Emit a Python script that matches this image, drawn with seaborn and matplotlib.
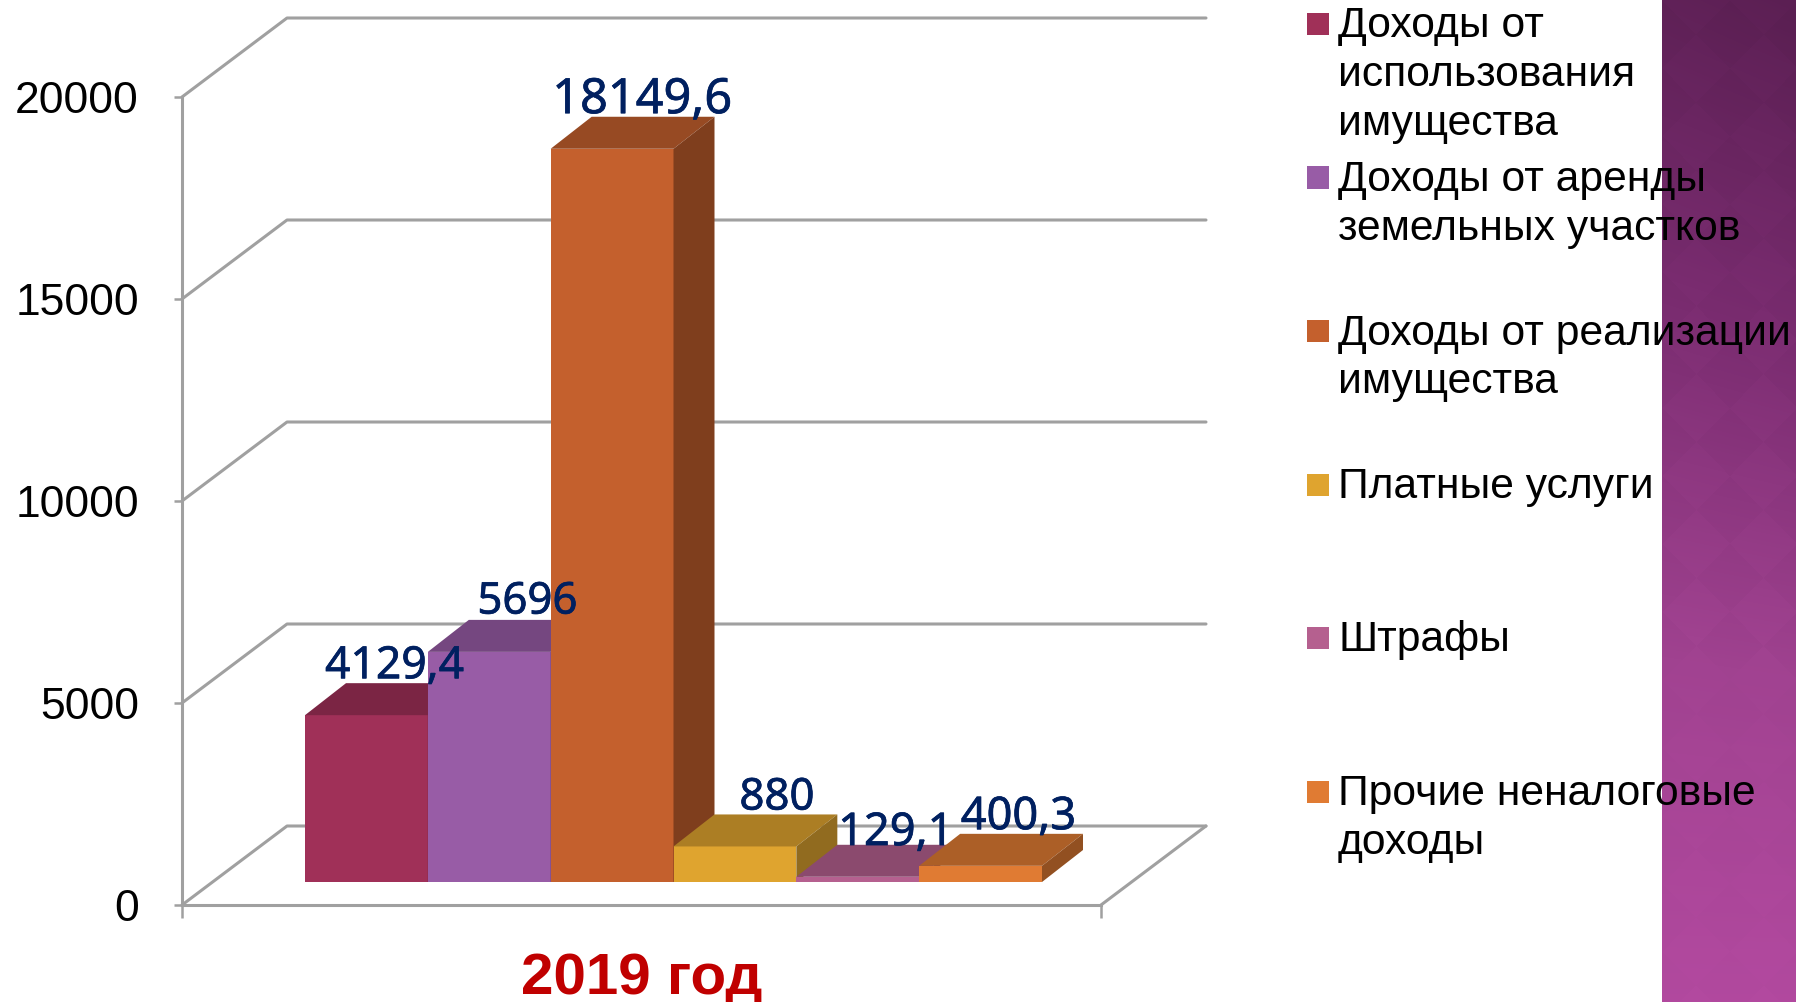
import numpy as np
import pandas as pd
import seaborn as sns
import matplotlib.pyplot as plt
import matplotlib.patheffects as pe
from matplotlib.colors import to_rgb, LinearSegmentedColormap
from matplotlib.lines import Line2D
from matplotlib.patches import Polygon, Rectangle
from matplotlib.transforms import IdentityTransform

# data
categories = ["Доходы от\nиспользования\nимущества", "Доходы от аренды\nземельных участков",
              "Доходы от реализации\nимущества", "Платные услуги", "Штрафы",
              "Прочие неналоговые\nдоходы"]
values = [4129.4, 5696, 18149.6, 880, 129.1, 400.3]
colors = ["#A03058", "#985CA6", "#C4602D", "#DFA42F", "#B5608F", "#E07B33"]
y_ticks = [0, 5000, 10000, 15000, 20000]
x_title = "2019 год"

W, H = 1796, 1002
DEPTH_WALL = (105, 79)
DEPTH_BAR = (41, 32)
GREY = "#A0A0A0"


def box(left, top, right, bottom):
    return [left / W, 1 - bottom / H, (right - left) / W, (bottom - top) / H]


def shade(col, k):
    return tuple(c * k for c in to_rgb(col))


sns.set_theme(style="white")
plt.rcParams["font.family"] = ["Liberation Sans", "DejaVu Sans"]
fig = plt.figure(figsize=(W / 100, H / 100), dpi=100, facecolor="white")
px = IdentityTransform()

# purple strip on the right
bg = fig.add_axes(box(1662, 0, W, H), zorder=0)
yy, xx = np.mgrid[0:1:H * 1j, 0:1:134j]
grad = yy + 0.06 * (1 - xx) * (1 - yy)
tile = 68.0
u = (xx * 134 + yy * H) / tile
v = (xx * 134 - yy * H) / tile
grad = grad + 0.012 * np.sign(np.sin(np.pi * u) * np.sin(np.pi * v))
strip = LinearSegmentedColormap.from_list(
    "strip", ["#5A1F52", "#7A2C70", "#A04290", "#B2499F"])
bg.imshow(grad, cmap=strip, aspect="auto", vmin=0, vmax=1)
bg.axis("off")

# front plane with the value axis
ax = fig.add_axes(box(182, 97, 1101, 905), zorder=1)
ax.patch.set_alpha(0)
ax.set_xlim(0, 1)
ax.set_ylim(0, 20000)
ax.set_yticks(y_ticks)
ax.set_xticks([0, 1])
ax.set_xticklabels(["", ""])
ax.tick_params(axis="y", left=True, length=5.5, width=1.8, color=GREY, pad=25.5,
               labelsize=32, labelcolor="black")
ax.tick_params(axis="x", bottom=True, length=9, width=1.8, color=GREY)
sns.despine(ax=ax)
for s in ["left", "bottom"]:
    ax.spines[s].set_color(GREY)
    ax.spines[s].set_linewidth(2.2)
ax.set_xlabel(x_title, fontsize=42, fontweight="bold", color="#C00000", labelpad=21)

# back wall lines
for t in y_ticks:
    x0, y0 = ax.transData.transform((0, t))
    xb, yb = x0 + DEPTH_WALL[0], y0 + DEPTH_WALL[1]
    xe = ax.transData.transform((1, t))[0] + DEPTH_WALL[0]
    fig.add_artist(Line2D([x0, xb, xe], [y0, yb, yb], transform=px, color=GREY, lw=2.2, zorder=0.5))
x1, y1 = ax.transData.transform((1, 0))
fig.add_artist(Line2D([x1, x1 + DEPTH_WALL[0]], [y1, y1 + DEPTH_WALL[1]], transform=px,
                      color=GREY, lw=2.2, zorder=0.5))

# bars sit on their own axes, moved into the depth of the box
bx = fig.add_axes(box(305, 74, 1042, 882), zorder=2)
bx.patch.set_alpha(0)
df = pd.DataFrame({"cat": categories, "val": values})
sns.barplot(data=df, x="cat", y="val", hue="cat", palette=colors, width=1, saturation=1,
            legend=False, linewidth=0, ax=bx)
bx.set_xlim(-0.5, 5.5)
bx.set_ylim(0, 20000)
bx.axis("off")

label_dx = [28, 38, 30, 42, 38, 38]
label_dy = [34.5, 35.5, 35, 34.5, 31.5, 35]
label_size = [32, 31.5, 35, 31.5, 32.5, 32.5]
bars = [c[0] for c in bx.containers]
for i, bar in enumerate(bars):
    bar.set_zorder(2 + i)
    xa, ya = bx.transData.transform((bar.get_x(), 0))
    xc, yc = bx.transData.transform((bar.get_x() + bar.get_width(), bar.get_height()))
    dx, dy = DEPTH_BAR
    bx.add_patch(Polygon([(xa, yc), (xc, yc), (xc + dx, yc + dy), (xa + dx, yc + dy)],
                         transform=px, fc=shade(colors[i], 0.77), ec="none", zorder=2 + i,
                         clip_on=False))
    bx.add_patch(Polygon([(xc, ya), (xc + dx, ya + dy), (xc + dx, yc + dy), (xc, yc)],
                         transform=px, fc=shade(colors[i], 0.65), ec="none", zorder=2 + i,
                         clip_on=False))
    txt = f"{values[i]:g}".replace(".", ",")
    bx.annotate(txt, (bar.get_x() + bar.get_width() / 2, bar.get_height()),
                xytext=(label_dx[i] * 0.72, label_dy[i]), textcoords="offset points",
                ha="center", va="center", fontsize=label_size[i], color="#002060",
                family="Noto Sans", zorder=20, annotation_clip=False,
                path_effects=[pe.withStroke(linewidth=0.5, foreground="#002060")])

# legend, first lines on an even step
for i, cat in enumerate(categories):
    top = 6.5 + i * 153.5
    fig.add_artist(Rectangle((1307 / W, 1 - (top + 28.5) / H), 22 / W, 22 / H,
                             transform=fig.transFigure, fc=colors[i], ec="none", zorder=5))
    fig.text(1338 / W, 1 - top / H, cat, fontsize=30.7, color="black", va="top", ha="left",
             linespacing=1.29, zorder=6)

fig.savefig("out.png", dpi=100)
